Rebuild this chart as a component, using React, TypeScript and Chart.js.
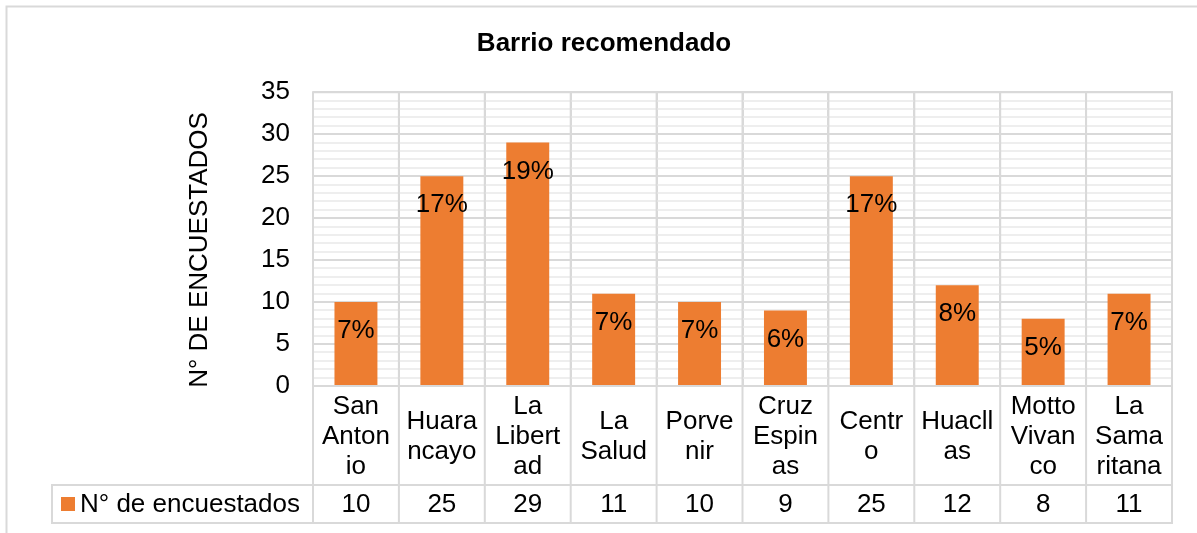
import { useEffect, useRef } from 'react';
import { Chart, registerables } from 'chart.js';

Chart.register(...registerables);

const chartTitle = 'Barrio recomendado';
const yAxisTitle = 'N° DE ENCUESTADOS';
const seriesName = 'N° de encuestados';

const categories: string[][] = [
  ['San', 'Anton', 'io'],
  ['Huara', 'ncayo'],
  ['La', 'Libert', 'ad'],
  ['La', 'Salud'],
  ['Porve', 'nir'],
  ['Cruz', 'Espin', 'as'],
  ['Centr', 'o'],
  ['Huacll', 'as'],
  ['Motto', 'Vivan', 'co'],
  ['La', 'Sama', 'ritana'],
];

const values: number[] = [10, 25, 29, 11, 10, 9, 25, 12, 8, 11];

const yMin = 0;
const yMax = 35;
const yMajorStep = 5;

const FONT = "'Liberation Sans', Arial, sans-serif";
const ORANGE = '#ED7D31';
const GRID = '#d9d9d9';
const MINOR = '#eeeeee';
const TEXT = '#000000';

const total = values.reduce((a, b) => a + b, 0);
const percentLabels = values.map((v) => Math.round((v * 100) / total) + '%');

const framePlugin = {
  id: 'frame',
  beforeDraw(chart: any) {
    const { ctx } = chart;
    ctx.save();
    ctx.fillStyle = '#ffffff';
    ctx.fillRect(0, 0, chart.width, chart.height);
    ctx.strokeStyle = GRID;
    ctx.lineWidth = 2;
    ctx.strokeRect(6.5, 6.5, chart.width + 50, chart.height + 50);
    ctx.restore();
  },
};

const percentPlugin = {
  id: 'percentLabels',
  afterDatasetsDraw(chart: any) {
    const { ctx } = chart;
    const meta = chart.getDatasetMeta(0);
    ctx.save();
    ctx.font = `26px ${FONT}`;
    ctx.fillStyle = TEXT;
    ctx.textAlign = 'center';
    ctx.textBaseline = 'middle';
    meta.data.forEach((bar: any, i: number) => {
      ctx.fillText(percentLabels[i], bar.x, bar.y + 29);
    });
    ctx.restore();
  },
};

const tablePlugin = {
  id: 'dataTable',
  afterDraw(chart: any) {
    const { ctx, chartArea, scales } = chart;
    const xs = scales.x;
    const n = categories.length;
    const left = chartArea.left;
    const right = chartArea.right;
    const top = chartArea.top;
    const bottom = chartArea.bottom;
    const half = (right - left) / n / 2;
    const rowTop = bottom + 99;
    const rowBottom = bottom + 137;
    const legendLeft = 52;
    const line = (x1: number, y1: number, x2: number, y2: number) => {
      ctx.beginPath();
      ctx.moveTo(x1, y1);
      ctx.lineTo(x2, y2);
      ctx.stroke();
    };
    ctx.save();
    ctx.strokeStyle = GRID;
    ctx.lineWidth = 2;
    for (let i = 0; i <= n; i++) {
      const px = i < n ? xs.getPixelForValue(i) - half : xs.getPixelForValue(n - 1) + half;
      line(px, top - 1, px, rowBottom + 1);
    }
    line(left, bottom, right + 1, bottom);
    line(left, top, right + 1, top);
    line(legendLeft - 1, rowTop, right + 1, rowTop);
    line(legendLeft - 1, rowBottom, right + 1, rowBottom);
    line(legendLeft, rowTop, legendLeft, rowBottom);

    const midY = (rowTop + rowBottom) / 2;
    ctx.fillStyle = ORANGE;
    ctx.fillRect(61, midY - 7, 14, 14);
    ctx.font = `26px ${FONT}`;
    ctx.fillStyle = TEXT;
    ctx.textBaseline = 'middle';
    ctx.textAlign = 'left';
    ctx.fillText(seriesName, 80, midY + 1);
    ctx.textAlign = 'center';
    values.forEach((v, i) => {
      ctx.fillText(String(v), xs.getPixelForValue(i), midY + 1);
    });
    ctx.restore();
  },
};

export default function App() {
  const ref = useRef<HTMLCanvasElement | null>(null);

  useEffect(() => {
    if (!ref.current) return;
    const chart = new Chart(ref.current, {
      type: 'bar',
      data: {
        labels: categories,
        datasets: [
          {
            label: seriesName,
            data: values,
            backgroundColor: ORANGE,
            borderWidth: 0,
            categoryPercentage: 1,
            barPercentage: 0.5,
          },
        ],
      },
      options: {
        animation: false,
        responsive: false,
        devicePixelRatio: 1,
        layout: { padding: { left: 36, right: 25, top: 0, bottom: 0 } },
        plugins: {
          legend: { display: false },
          tooltip: { enabled: false },
          title: {
            display: true,
            text: chartTitle,
            color: TEXT,
            font: { family: FONT, size: 26, weight: 'bold', lineHeight: 1.2 },
            padding: { top: 28, bottom: 33 },
          },
        },
        scales: {
          x: {
            offset: true,
            grid: { display: true, color: GRID, lineWidth: 2, drawTicks: false, offset: true },
            border: { display: false },
            ticks: {
              color: TEXT,
              font: { family: FONT, size: 26, lineHeight: 30 / 26 },
              autoSkip: false,
              maxRotation: 0,
              minRotation: 0,
              crossAlign: 'center',
              padding: 21,
            },
            afterFit(scale: any) {
              scale.height = 147;
            },
          },
          y: {
            min: yMin,
            max: yMax,
            grid: {
              color: (c: any) => (c.tick && c.tick.value % yMajorStep === 0 ? GRID : MINOR),
              lineWidth: 2,
              drawTicks: false,
            },
            border: { display: false },
            ticks: {
              stepSize: 1,
              maxTicksLimit: 100,
              autoSkip: false,
              color: TEXT,
              padding: 23,
              font: { family: FONT, size: 26 },
              callback: (v: any) => (Number(v) % yMajorStep === 0 ? String(v) : ''),
            },
            title: {
              display: true,
              text: yAxisTitle + '   ',
              color: TEXT,
              font: { family: FONT, size: 26, lineHeight: 1.2 },
              padding: { top: 148, bottom: 0 },
            },
            afterFit(scale: any) {
              scale.width = 277;
            },
          },
        },
      },
      plugins: [framePlugin, percentPlugin, tablePlugin],
    } as any);
    return () => chart.destroy();
  }, []);

  return (
    <div style={{ position: 'absolute', left: 0, top: 0, width: 1197, height: 533 }}>
      <canvas ref={ref} width={1197} height={533} style={{ display: 'block' }} />
    </div>
  );
}
